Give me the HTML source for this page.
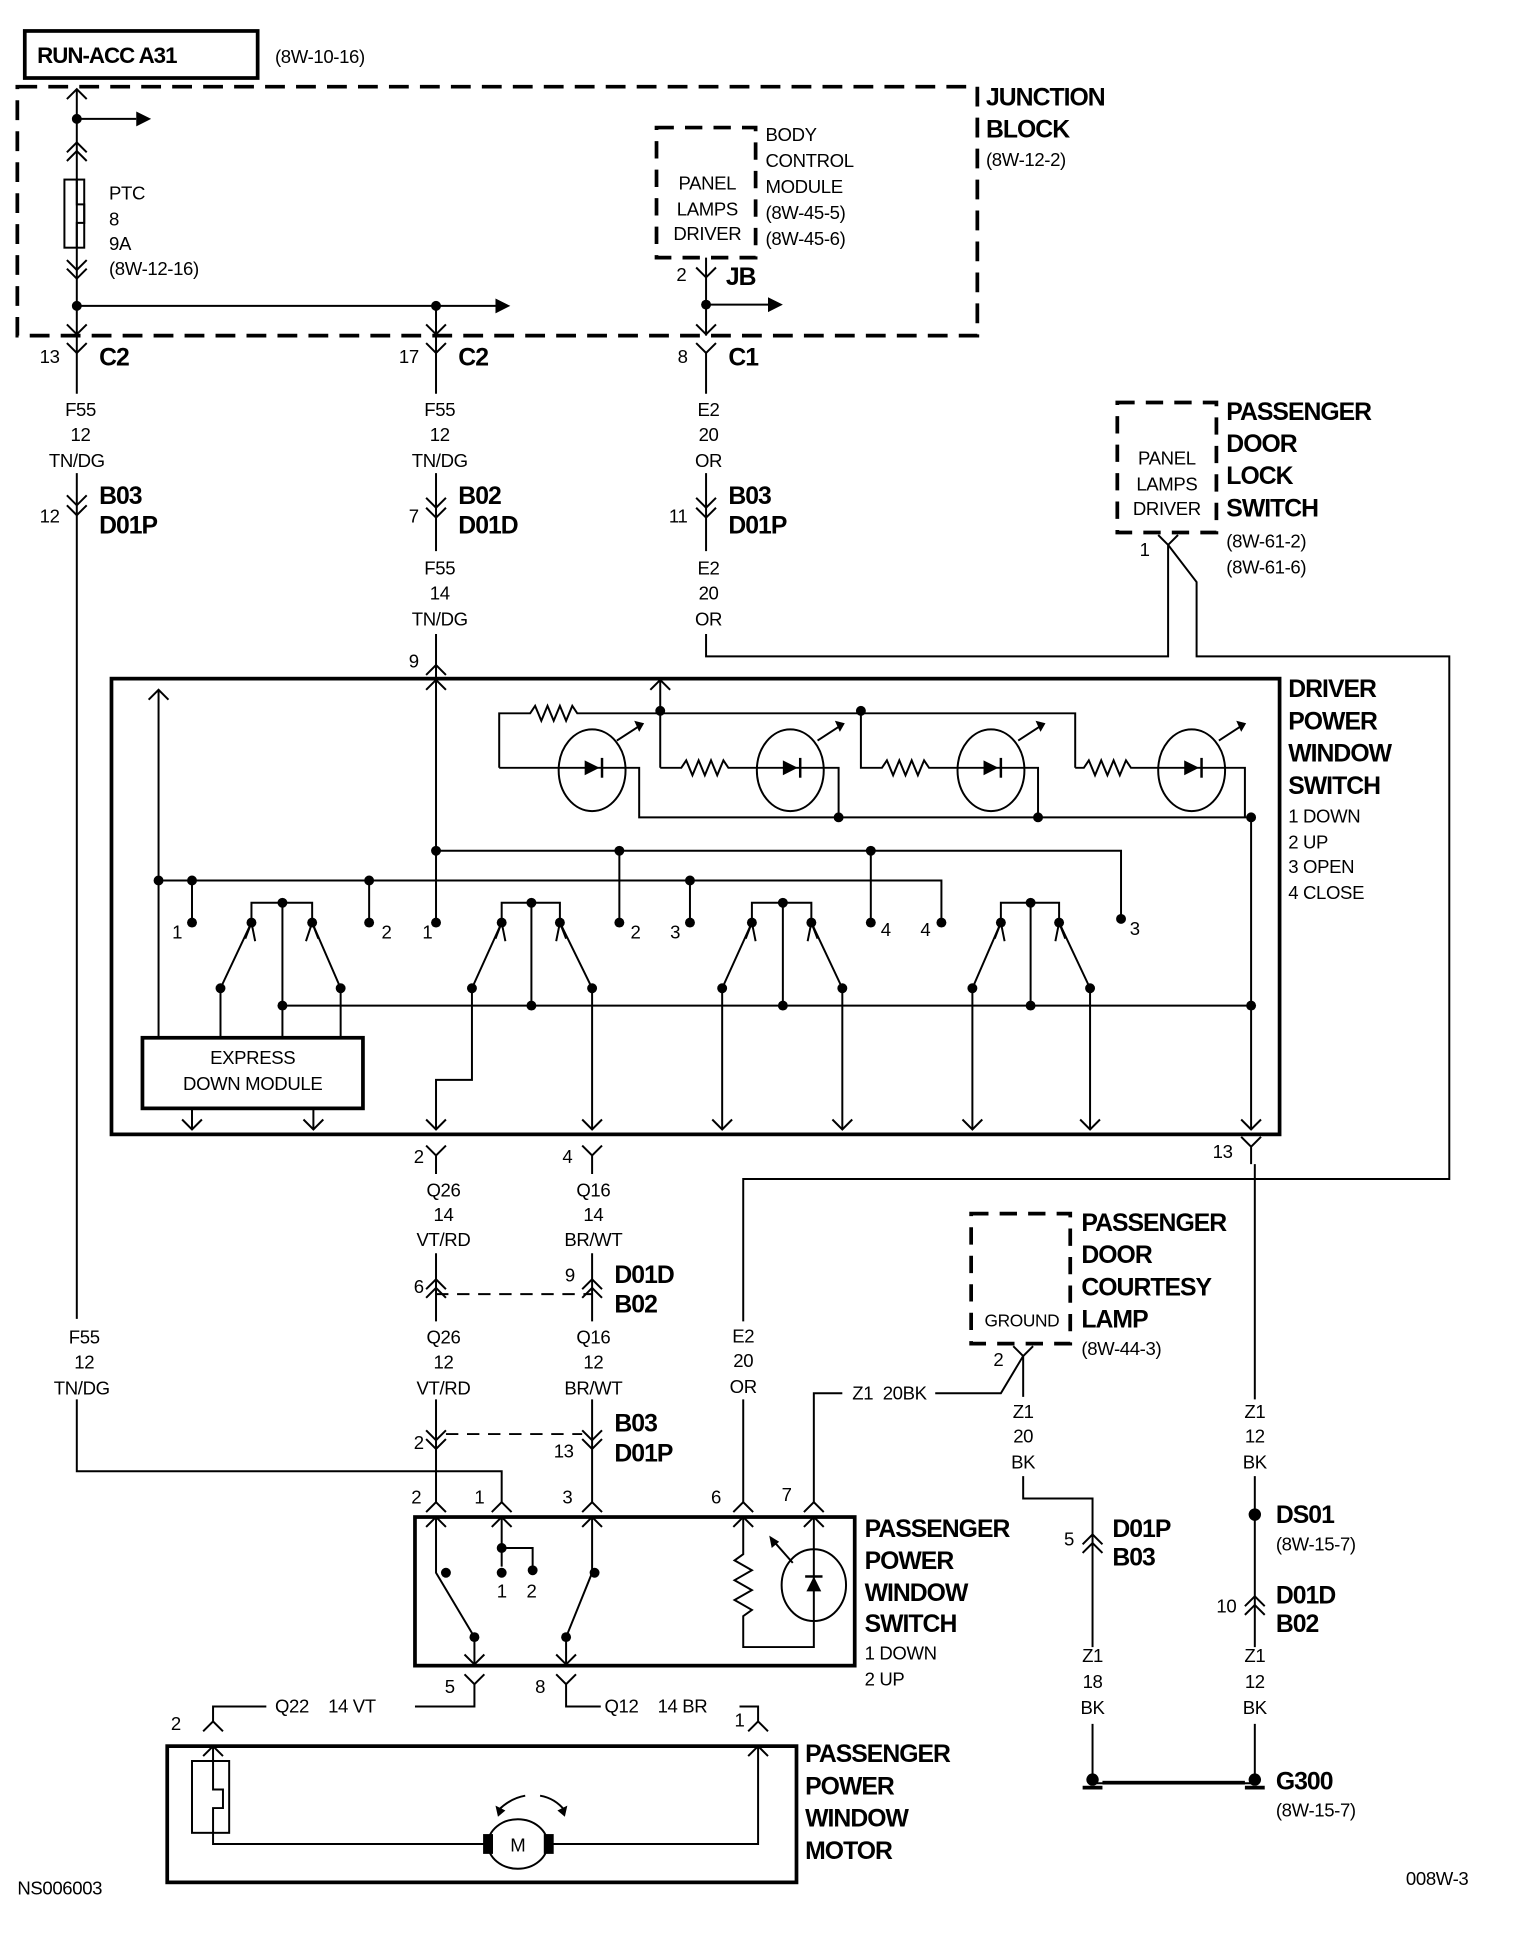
<!DOCTYPE html>
<html><head><meta charset="utf-8"><style>
html,body{margin:0;padding:0;background:#fff}
svg{display:block}
text{font-family:"Liberation Sans Narrow","Liberation Sans",sans-serif;fill:#000}
.r{font-size:15px;letter-spacing:-0.3px}
.b{font-size:20px;font-weight:bold;letter-spacing:-0.8px}
.c{text-anchor:middle}
</style></head><body>
<svg width="1536" height="1948" viewBox="0 0 1240 1573" preserveAspectRatio="none" xmlns="http://www.w3.org/2000/svg">
<g fill="none" stroke="#000" stroke-width="1.6">
<rect x="20" y="25" width="188" height="38" stroke-width="3"/>
<path d="M14 70 H789 V271 H14 Z" stroke-width="3" stroke-dasharray="16 9"/>
<path d="M530 103 H610 V208 H530 Z" stroke-width="3" stroke-dasharray="14 9"/>
<path d="M902 325 H982 V430 H902 Z" stroke-width="3" stroke-dasharray="14 9"/>
<path d="M784 980 H864 V1085 H784 Z" stroke-width="3" stroke-dasharray="14 9"/>

<path d="M62 72 V318 M62 382 V1065 M62 1130 V1188 H405 V1213"/>
<path d="M54 80 L62 72 L70 80"/>
<path d="M62 96 H110"/>
<path d="M54 123 L62 115 L70 123 M54 130 L62 122 L70 130"/>
<rect x="52" y="145" width="16" height="55"/>
<path d="M62 145 V165 H68 V180 H62 V200"/>
<path d="M54 210 L62 218 L70 210 M54 217 L62 225 L70 217"/>
<path d="M62 247 H400"/>
<path d="M54 262 L62 270 L70 262"/>
<path d="M352 247 V271 M344 262 L352 270 L360 262"/>
<path d="M54 277 L62 285 L70 277"/>
<path d="M54 400 L62 408 L70 400 M54 408 L62 416 L70 408"/>

<path d="M352 270 V318 M352 382 V445 M352 512 V549"/>
<path d="M344 277 L352 285 L360 277"/>
<path d="M344 402 L352 410 L360 402 M344 410 L352 418 L360 410"/>
<path d="M344 545 L352 537 L360 545"/>

<path d="M570 208 V271 M570 285 V318 M570 382 V445 M570 512 V530 H943 V440"/>
<path d="M562 216 L570 224 L578 216"/>
<path d="M570 246 H620"/>
<path d="M562 262 L570 270 L578 262"/>
<path d="M562 277 L570 285 L578 277"/>
<path d="M562 402 L570 410 L578 402 M562 410 L570 418 L578 410"/>
<path d="M935 432 L943 440 L951 432"/>
<path d="M943 440 L966 470 V530 H1170 V952 H600 V1067 M600 1130 V1213"/>

<rect x="90" y="548" width="943" height="368" stroke-width="3"/>
<path d="M128 557 V838 M120 565 L128 557 L136 565"/>
<path d="M352 549 V745 M344 557 L352 549 L360 557"/>
<path d="M128 711 H760 V745 M155 711 V745 M298 711 V745 M557 711 V745"/>
<path d="M352 687 H905 V742 M500 687 V745 M703 687 V745"/>
<path d="M203 745 V729 H252 V745 M228 729 V838 M178 798 L203 745 M275 798 L252 745 M178 798 V838 M275 798 V838"/>
<path d="M405 745 V729 H452 V745 M429 729 V812 M381 798 L405 745 M478 798 L452 745 M381 798 V872 H352 V912 M478 798 V912"/>
<path d="M607 745 V729 H655 V745 M632 729 V812 M583 798 L607 745 M680 798 L655 745 M583 798 V912 M680 798 V912"/>
<path d="M808 745 V729 H855 V745 M832 729 V812 M785 798 L808 745 M880 798 L855 745 M785 798 V912 M880 798 V912"/>
<path d="M228 812 H1010 M1010 660 V912"/>
<path d="M198 758 L203 745 L206 760 M247 760 L252 745 L257 758"/>
<path d="M400 758 L405 745 L408 760 M449 760 L452 745 L457 758"/>
<path d="M602 758 L607 745 L610 760 M652 760 L655 745 L660 758"/>
<path d="M803 758 L808 745 L811 760 M852 760 L855 745 L860 758"/>
<path d="M344 904 L352 912 L360 904 M470 904 L478 912 L486 904 M575 904 L583 912 L591 904 M672 904 L680 912 L688 904 M777 904 L785 912 L793 904 M872 904 L880 912 L888 904 M1002 904 L1010 912 L1018 904"/>
<path d="M155 895 V912 M253 895 V912 M147 904 L155 912 L163 904 M245 904 L253 912 L261 904"/>
<rect x="115" y="838" width="178" height="57" stroke-width="3"/>
<path d="M533 549 V620 M525 557 L533 549 L541 557"/>
<path d="M403 620 V576 H428 l4 -6 l5 12 l5 -12 l5 12 l5 -12 l5 12 l5 -12 l4 6 H868 V620"/>
<path d="M403 620 H516 V660 H1010"/>
<path d="M533 620 H550 l4 -6 l5 12 l5 -12 l5 12 l5 -12 l5 12 l5 -12 l4 6 H677 V660"/>
<path d="M695 574 V620 H712 l4 -6 l5 12 l5 -12 l5 12 l5 -12 l5 12 l5 -12 l4 6 H838 V660"/>
<path d="M868 620 H875 l4 -6 l5 12 l5 -12 l5 12 l5 -12 l5 12 l5 -12 l4 6 H1005 V660"/>
<ellipse cx="478" cy="622" rx="27" ry="33"/>
<ellipse cx="638" cy="622" rx="27" ry="33"/>
<ellipse cx="800" cy="622" rx="27" ry="33"/>
<ellipse cx="962" cy="622" rx="27" ry="33"/>
<path d="M498 598 L518 585 M660 598 L680 585 M822 598 L842 585 M984 598 L1004 585"/>

<path d="M344 925 L352 933 L360 925 M352 933 V948 M470 925 L478 933 L486 925 M478 933 V948"/>
<path d="M1002 918 L1010 926 L1018 918 M1010 926 V940"/>
<path d="M1013 940 V1130 M1013 1192 V1330 M1013 1392 V1440"/>
<path d="M352 1012 V1067 M478 1012 V1067 M352 1130 V1213 M478 1130 V1213"/>
<path d="M344 1041 L352 1033 L360 1041 M344 1048 L352 1040 L360 1048"/>
<path d="M470 1041 L478 1033 L486 1041 M470 1048 L478 1040 L486 1048"/>
<path d="M352 1045 H478" stroke-dasharray="10 7"/>
<path d="M344 1155 L352 1163 L360 1155 M344 1162 L352 1170 L360 1162"/>
<path d="M470 1155 L478 1163 L486 1155 M470 1162 L478 1170 L486 1162"/>
<path d="M360 1158 H470" stroke-dasharray="10 7"/>
<path d="M344 1221 L352 1213 L360 1221 M397 1221 L405 1213 L413 1221 M470 1221 L478 1213 L486 1221 M592 1221 L600 1213 L608 1221 M649 1221 L657 1213 L665 1221"/>
<path d="M657 1213 V1125 H680 M755 1125 H808 L826 1095 M818 1087 L826 1095 L834 1087 M826 1095 V1128 M826 1192 V1210 H882 V1330 M882 1392 V1440 H1013"/>
<path d="M874 1247 L882 1239 L890 1247 M874 1254 L882 1246 L890 1254"/>
<path d="M1005 1297 L1013 1289 L1021 1297 M1005 1304 L1013 1296 L1021 1304"/>
<rect x="335" y="1225" width="355" height="120" stroke-width="3"/>
<path d="M352 1225 V1270 L383 1322 V1345 M344 1233 L352 1225 L360 1233"/>
<path d="M405 1225 V1250 H430 V1265 M405 1250 V1265 M397 1233 L405 1225 L413 1233"/>
<path d="M478 1225 V1270 L457 1322 V1345 M470 1233 L478 1225 L486 1233"/>
<path d="M375 1336 L383 1344 L391 1336 M449 1336 L457 1344 L465 1336"/>
<path d="M600 1225 V1255 l-7 5 l14 8 l-14 8 l14 8 l-14 8 l14 8 l-7 5 V1330 H657 V1225"/>
<path d="M592 1233 L600 1225 L608 1233 M649 1233 L657 1225 L665 1233"/>
<ellipse cx="657" cy="1280" rx="26" ry="29"/>
<path d="M640 1262 L625 1245"/>
<path d="M375 1352 L383 1360 L391 1352 M383 1360 V1378 H335 M449 1352 L457 1360 L465 1352 M457 1360 V1378 H485"/>
<path d="M215 1378 H172 V1390 M164 1398 L172 1390 L180 1398"/>
<path d="M597 1378 H612 V1390 M604 1398 L612 1390 L620 1398"/>
<rect x="135" y="1410" width="508" height="110" stroke-width="3"/>
<path d="M164 1418 L172 1410 L180 1418 M604 1418 L612 1410 L620 1418"/>
<rect x="155" y="1422" width="30" height="58"/>
<path d="M172 1410 V1445 H180 V1460 H172 V1489 H392 M443 1489 H612 V1410"/>
<ellipse cx="418" cy="1489" rx="24" ry="20"/>
<path d="M402 1462 Q412 1452 424 1450 M436 1450 Q448 1452 456 1462"/>
</g>
<g fill="#000">
<circle cx="62" cy="96" r="4"/><circle cx="62" cy="247" r="4"/><circle cx="352" cy="247" r="4"/><circle cx="570" cy="246" r="4"/>
<path d="M110 90 L122 96 L110 102 Z M400 241 L412 247 L400 253 Z M620 240 L632 246 L620 252 Z"/>
<circle cx="128" cy="711" r="4"/><circle cx="155" cy="711" r="4"/><circle cx="298" cy="711" r="4"/><circle cx="557" cy="711" r="4"/>
<circle cx="352" cy="687" r="4"/><circle cx="500" cy="687" r="4"/><circle cx="703" cy="687" r="4"/>
<circle cx="155" cy="745" r="4"/><circle cx="298" cy="745" r="4"/><circle cx="352" cy="745" r="4"/><circle cx="500" cy="745" r="4"/><circle cx="557" cy="745" r="4"/><circle cx="703" cy="745" r="4"/><circle cx="760" cy="745" r="4"/><circle cx="905" cy="742" r="4"/>
<circle cx="203" cy="745" r="4"/><circle cx="252" cy="745" r="4"/><circle cx="228" cy="729" r="4"/><circle cx="178" cy="798" r="4"/><circle cx="275" cy="798" r="4"/>
<circle cx="405" cy="745" r="4"/><circle cx="452" cy="745" r="4"/><circle cx="429" cy="729" r="4"/><circle cx="381" cy="798" r="4"/><circle cx="478" cy="798" r="4"/>
<circle cx="607" cy="745" r="4"/><circle cx="655" cy="745" r="4"/><circle cx="632" cy="729" r="4"/><circle cx="583" cy="798" r="4"/><circle cx="680" cy="798" r="4"/>
<circle cx="808" cy="745" r="4"/><circle cx="855" cy="745" r="4"/><circle cx="832" cy="729" r="4"/><circle cx="785" cy="798" r="4"/><circle cx="880" cy="798" r="4"/>
<circle cx="228" cy="812" r="4"/><circle cx="429" cy="812" r="4"/><circle cx="632" cy="812" r="4"/><circle cx="832" cy="812" r="4"/><circle cx="1010" cy="812" r="4"/>
<circle cx="533" cy="574" r="4"/><circle cx="695" cy="574" r="4"/><circle cx="677" cy="660" r="4"/><circle cx="838" cy="660" r="4"/><circle cx="1010" cy="660" r="4"/>
<path d="M472 614 L484 620 L472 626 Z M632 614 L644 620 L632 626 Z M794 614 L806 620 L794 626 Z M956 614 L968 620 L956 626 Z"/>
<rect x="485" y="612" width="2" height="16"/><rect x="645" y="612" width="2" height="16"/><rect x="807" y="612" width="2" height="16"/><rect x="969" y="612" width="2" height="16"/>
<path d="M512 582 L520 584 L516 591 Z M674 582 L682 584 L678 591 Z M836 582 L844 584 L840 591 Z M998 582 L1006 584 L1002 591 Z"/>
<circle cx="405" cy="1250" r="4"/><circle cx="360" cy="1270" r="4"/><circle cx="405" cy="1270" r="4"/><circle cx="430" cy="1268" r="4"/><circle cx="480" cy="1270" r="4"/><circle cx="383" cy="1322" r="4"/><circle cx="457" cy="1322" r="4"/>
<path d="M651 1285 L663 1285 L657 1273 Z"/><rect x="650" y="1272" width="14" height="2"/>
<path d="M621 1240 L629 1245 L623 1250 Z"/>
<circle cx="1013" cy="1223" r="5"/>
<circle cx="882" cy="1437" r="5"/><rect x="874" y="1442" width="16" height="3"/>
<circle cx="1013" cy="1437" r="5"/><rect x="1005" y="1442" width="16" height="3"/>
<rect x="890" y="1438" width="115" height="3"/>
<rect x="390" y="1481" width="8" height="16"/><rect x="439" y="1481" width="8" height="16"/>
<path d="M400 1458 L408 1462 L402 1467 Z M458 1458 L456 1467 L450 1462 Z"/>
</g>
<g>
<text x="30" y="51" class="b" style="font-size:18px">RUN-ACC A31</text>
<text x="222" y="51" class="r">(8W-10-16)</text>
<text x="796" y="85" class="b">JUNCTION</text>
<text x="796" y="111" class="b">BLOCK</text>
<text x="796" y="134" class="r">(8W-12-2)</text>
<text x="88" y="161" class="r">PTC</text><text x="88" y="182" class="r">8</text><text x="88" y="202" class="r">9A</text><text x="88" y="222" class="r">(8W-12-16)</text>
<text x="571" y="153" class="r c">PANEL</text><text x="571" y="174" class="r c">LAMPS</text><text x="571" y="194" class="r c">DRIVER</text>
<text x="618" y="114" class="r">BODY</text><text x="618" y="135" class="r">CONTROL</text><text x="618" y="156" class="r">MODULE</text><text x="618" y="177" class="r">(8W-45-5)</text><text x="618" y="198" class="r">(8W-45-6)</text>
<text x="546" y="227" class="r">2</text><text x="586" y="230" class="b">JB</text>
<text x="32" y="293" class="r">13</text><text x="80" y="295" class="b">C2</text>
<text x="322" y="293" class="r">17</text><text x="370" y="295" class="b">C2</text>
<text x="547" y="293" class="r">8</text><text x="588" y="295" class="b">C1</text>
<text x="65" y="336" class="r c">F55</text><text x="65" y="356" class="r c">12</text><text x="62" y="377" class="r c">TN/DG</text>
<text x="355" y="336" class="r c">F55</text><text x="355" y="356" class="r c">12</text><text x="355" y="377" class="r c">TN/DG</text>
<text x="572" y="336" class="r c">E2</text><text x="572" y="356" class="r c">20</text><text x="572" y="377" class="r c">OR</text>
<text x="32" y="422" class="r">12</text><text x="80" y="407" class="b">B03</text><text x="80" y="431" class="b">D01P</text>
<text x="330" y="422" class="r">7</text><text x="370" y="407" class="b">B02</text><text x="370" y="431" class="b">D01D</text>
<text x="540" y="422" class="r">11</text><text x="588" y="407" class="b">B03</text><text x="588" y="431" class="b">D01P</text>
<text x="355" y="464" class="r c">F55</text><text x="355" y="484" class="r c">14</text><text x="355" y="505" class="r c">TN/DG</text>
<text x="572" y="464" class="r c">E2</text><text x="572" y="484" class="r c">20</text><text x="572" y="505" class="r c">OR</text>
<text x="330" y="539" class="r">9</text>
<text x="942" y="375" class="r c">PANEL</text><text x="942" y="396" class="r c">LAMPS</text><text x="942" y="416" class="r c">DRIVER</text>
<text x="990" y="339" class="b">PASSENGER</text><text x="990" y="365" class="b">DOOR</text><text x="990" y="391" class="b">LOCK</text><text x="990" y="417" class="b">SWITCH</text>
<text x="990" y="442" class="r">(8W-61-2)</text><text x="990" y="463" class="r">(8W-61-6)</text>
<text x="920" y="449" class="r">1</text>
<text x="1040" y="563" class="b">DRIVER</text><text x="1040" y="589" class="b">POWER</text><text x="1040" y="615" class="b">WINDOW</text><text x="1040" y="641" class="b">SWITCH</text>
<text x="1040" y="664" class="r">1 DOWN</text><text x="1040" y="685" class="r">2 UP</text><text x="1040" y="705" class="r">3 OPEN</text><text x="1040" y="726" class="r">4 CLOSE</text>
<text x="139" y="758" class="r">1</text><text x="308" y="758" class="r">2</text><text x="341" y="758" class="r">1</text><text x="509" y="758" class="r">2</text><text x="541" y="758" class="r">3</text><text x="711" y="756" class="r">4</text><text x="743" y="756" class="r">4</text><text x="912" y="755" class="r">3</text>
<text x="204" y="859" class="r c">EXPRESS</text><text x="204" y="880" class="r c">DOWN MODULE</text>
<text x="334" y="939" class="r">2</text><text x="454" y="939" class="r">4</text><text x="979" y="935" class="r">13</text>
<text x="358" y="966" class="r c">Q26</text><text x="358" y="986" class="r c">14</text><text x="358" y="1006" class="r c">VT/RD</text>
<text x="479" y="966" class="r c">Q16</text><text x="479" y="986" class="r c">14</text><text x="479" y="1006" class="r c">BR/WT</text>
<text x="334" y="1044" class="r">6</text><text x="456" y="1035" class="r">9</text>
<text x="496" y="1036" class="b">D01D</text><text x="496" y="1060" class="b">B02</text>
<text x="68" y="1085" class="r c">F55</text><text x="68" y="1105" class="r c">12</text><text x="66" y="1126" class="r c">TN/DG</text>
<text x="358" y="1085" class="r c">Q26</text><text x="358" y="1105" class="r c">12</text><text x="358" y="1126" class="r c">VT/RD</text>
<text x="479" y="1085" class="r c">Q16</text><text x="479" y="1105" class="r c">12</text><text x="479" y="1126" class="r c">BR/WT</text>
<text x="600" y="1084" class="r c">E2</text><text x="600" y="1104" class="r c">20</text><text x="600" y="1125" class="r c">OR</text>
<text x="688" y="1130" class="r">Z1&#160;&#160;20BK</text>
<text x="825" y="1071" class="r c" style="font-size:14px">GROUND</text>
<text x="873" y="994" class="b">PASSENGER</text><text x="873" y="1020" class="b">DOOR</text><text x="873" y="1046" class="b">COURTESY</text><text x="873" y="1072" class="b">LAMP</text>
<text x="873" y="1094" class="r">(8W-44-3)</text>
<text x="802" y="1103" class="r">2</text>
<text x="826" y="1145" class="r c">Z1</text><text x="826" y="1165" class="r c">20</text><text x="826" y="1186" class="r c">BK</text>
<text x="1013" y="1145" class="r c">Z1</text><text x="1013" y="1165" class="r c">12</text><text x="1013" y="1186" class="r c">BK</text>
<text x="334" y="1170" class="r">2</text><text x="447" y="1177" class="r">13</text>
<text x="496" y="1156" class="b">B03</text><text x="496" y="1180" class="b">D01P</text>
<text x="332" y="1214" class="r">2</text><text x="383" y="1214" class="r">1</text><text x="454" y="1214" class="r">3</text><text x="574" y="1214" class="r">6</text><text x="631" y="1212" class="r">7</text>
<text x="401" y="1290" class="r">1</text><text x="425" y="1290" class="r">2</text>
<text x="698" y="1241" class="b">PASSENGER</text><text x="698" y="1267" class="b">POWER</text><text x="698" y="1293" class="b">WINDOW</text><text x="698" y="1318" class="b">SWITCH</text>
<text x="698" y="1340" class="r">1 DOWN</text><text x="698" y="1361" class="r">2 UP</text>
<text x="859" y="1248" class="r">5</text><text x="898" y="1241" class="b">D01P</text><text x="898" y="1264" class="b">B03</text>
<text x="1030" y="1230" class="b">DS01</text><text x="1030" y="1252" class="r">(8W-15-7)</text>
<text x="982" y="1302" class="r">10</text><text x="1030" y="1295" class="b">D01D</text><text x="1030" y="1318" class="b">B02</text>
<text x="882" y="1342" class="r c">Z1</text><text x="882" y="1363" class="r c">18</text><text x="882" y="1384" class="r c">BK</text>
<text x="1013" y="1342" class="r c">Z1</text><text x="1013" y="1363" class="r c">12</text><text x="1013" y="1384" class="r c">BK</text>
<text x="1030" y="1445" class="b">G300</text><text x="1030" y="1467" class="r">(8W-15-7)</text>
<text x="359" y="1367" class="r">5</text><text x="432" y="1367" class="r">8</text>
<text x="222" y="1383" class="r">Q22&#160;&#160;&#160;&#160;14 VT</text>
<text x="488" y="1383" class="r">Q12&#160;&#160;&#160;&#160;14 BR</text>
<text x="138" y="1397" class="r">2</text><text x="593" y="1394" class="r">1</text>
<text x="418" y="1495" class="r c">M</text>
<text x="650" y="1423" class="b">PASSENGER</text><text x="650" y="1449" class="b">POWER</text><text x="650" y="1475" class="b">WINDOW</text><text x="650" y="1501" class="b">MOTOR</text>
<text x="14" y="1530" class="r">NS006003</text><text x="1135" y="1522" class="r">008W-3</text>
</g>
</svg>
</body></html>
